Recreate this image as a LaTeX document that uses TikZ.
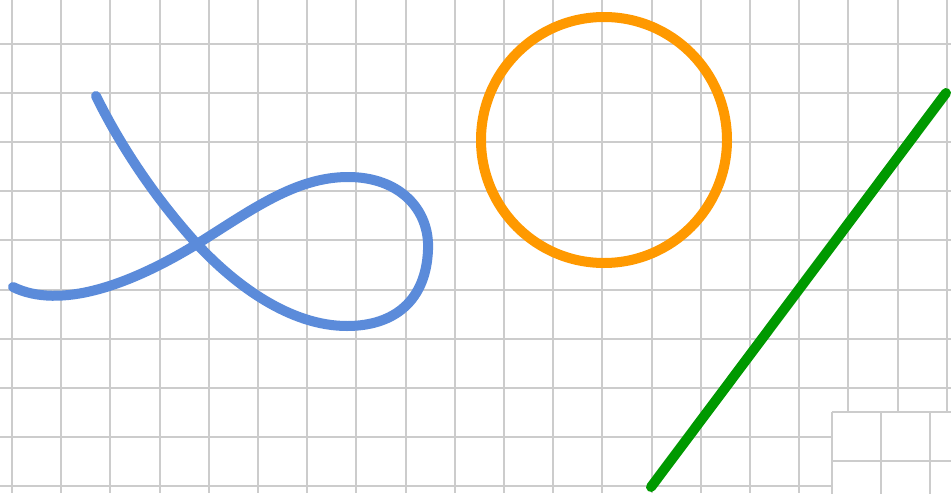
\documentclass[tikz,border=0pt]{standalone}
\begin{document}
\begin{tikzpicture}[x=1pt,y=-1pt,
  gridline/.style={draw=black!20,line width=2pt},
  stroke/.style={line width=10pt,line cap=round,line join=round}]
\definecolor{curveblue}{RGB}{91,139,218}
\definecolor{ringorange}{RGB}{255,153,0}
\definecolor{linegreen}{RGB}{0,153,0}
\useasboundingbox (0,0) rectangle (951,493);
\fill[white] (0,0) rectangle (951,493);
\foreach \i in {0,...,19} \draw[gridline] ({12+49.2*\i},0) -- ({12+49.2*\i},493);
\foreach \j in {-1,...,9} \draw[gridline] (0,{43.5+49.2*\j}) -- (951,{43.5+49.2*\j});
% bottom-right panel
\begin{scope}
\clip (0,0) rectangle (951,493);
\fill[white] (832,412) rectangle (960,500);
\foreach \x in {832,881.2,930.4} \draw[gridline] (\x,412) -- (\x,500);
\foreach \y in {412,461.2} \draw[gridline] (832,\y) -- (960,\y);
\end{scope}
% blue loop
\draw[stroke,curveblue] (13,287) .. controls (60,310) and (130,285) .. (197,244)
  .. controls (250,211) and (295,177) .. (348,177)
  .. controls (400,177) and (430,210) .. (428,250)
  .. controls (426,300) and (395,326) .. (347,326)
  .. controls (290,326) and (235,285) .. (197,244)
  .. controls (155,198) and (120,145) .. (96,96);
% orange circle
\draw[stroke,ringorange] (604,140) circle[radius=123];
% green line
\draw[stroke,linegreen] (651,487) -- (946,93);
\end{tikzpicture}
\end{document}
